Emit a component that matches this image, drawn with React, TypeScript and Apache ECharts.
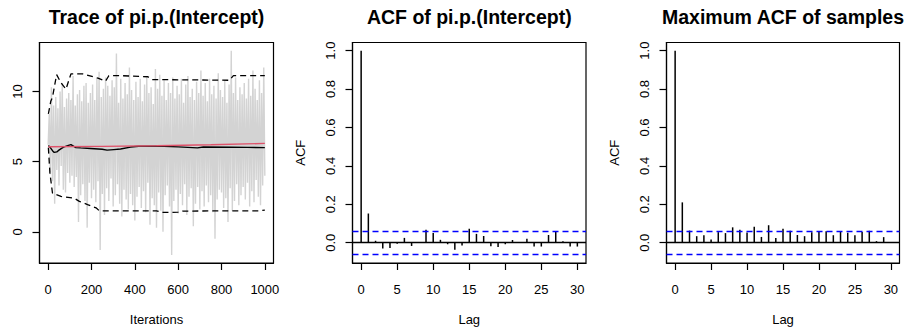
import React, { useEffect, useRef } from 'react';
import * as echarts from 'echarts';

// ---- Trace panel data ----
const traceStep = 5; // iteration spacing between recorded trace values
const traceValues = [
  6.2,
  8.4, 4.1, 10.3, 3.6, 9.0, 2.0, 9.6, 4.4, 8.8, 3.3, 10.0, 4.7, 10.6, 3.0, 8.9, 2.8, 9.5, 4.2, 9.9, 3.5,
  9.4, 4.0, 11.1, 3.2, 9.0, 3.9, 9.8, 0.7, 10.1, 2.6, 9.3, 3.4, 10.4, 2.2, 10.6, 0.3, 9.2, 3.5, 9.9, 2.4,
  10.5, 3.0, 9.4, 2.1, 10.9, 3.6, 11.4, -1.3, 9.6, 2.7, 10.2, 1.2, 11.0, 3.1, 10.4, 2.2, 9.7, 3.8, 10.8, 1.8,
  10.3, 2.6, 12.7, 3.4, 9.2, 2.0, 10.9, 1.1, 9.5, 3.0, 10.6, 2.3, 9.8, 1.6, 11.7, 2.7, 10.1, 1.9, 9.4, 0.8,
  10.7, 2.5, 9.6, 3.2, 10.9, 1.7, 9.3, 2.9, 10.5, 1.4, 11.0, 3.5, 9.9, 0.5, 10.3, 2.4, 9.1, 1.9, 11.6, 0.3,
  10.2, 2.8, 11.2, 1.5, 9.7, 0.0, 10.8, 2.6, 9.4, 3.3, 10.6, 1.8, 9.9, -1.65, 11.0, 2.2, 9.5, 3.0, 10.4, 1.3,
  9.8, 2.7, 10.9, 1.9, 9.2, 3.4, 10.5, 1.2, 11.1, 2.5, 9.6, 3.1, 10.2, 0.4, 9.4, 2.0, 10.7, 3.2, 9.9, 1.6,
  11.5, 2.9, 9.7, 1.8, 10.6, 3.3, 9.3, 2.1, 10.9, 2.6, 9.8, 1.4, 10.4, -0.5, 9.5, 2.3, 11.3, 3.0, 10.1, 2.8,
  9.6, 1.7, 10.8, 2.4, 9.2, 0.7, 10.5, 3.1, 12.9, 1.5, 9.9, 2.2, 11.0, 3.4, 9.4, 1.9, 10.3, 2.6, 9.8, 3.2,
  10.6, 2.3, 9.5, 3.5, 10.9, 1.8, 9.7, 2.9, 11.5, 2.1, 10.2, 3.7, 9.4, 2.5, 10.8, 1.9, 9.9, 3.3, 11.7, 4.0,
];

const runMeanIter = [1, 10, 20, 28, 40, 48, 60, 71, 90, 105, 128, 150, 195, 249, 272, 303, 334, 380, 418, 534, 600, 689, 716, 844, 920, 1000];
const runMeanVal = [6.15, 6.0, 5.78, 5.66, 5.7, 5.8, 5.93, 6.04, 6.14, 6.22, 6.0, 5.98, 5.94, 5.88, 5.82, 5.86, 5.9, 6.04, 6.1, 6.1, 6.05, 5.98, 6.04, 6.03, 6.02, 6.0];

const upperIter = [1, 12, 20, 39, 60, 82, 105, 160, 230, 265, 280, 330, 460, 480, 836, 855, 1000];
const upperVal = [8.4, 9.3, 9.6, 11.2, 10.6, 10.16, 11.25, 11.25, 10.95, 10.74, 11.12, 11.13, 11.05, 10.85, 10.8, 11.13, 11.13];

const lowerIter = [1, 8, 20, 59, 120, 144, 182, 221, 236, 500, 525, 600, 620, 970, 1000];
const lowerVal = [6.0, 4.2, 2.75, 2.52, 2.4, 2.17, 1.94, 1.71, 1.5, 1.5, 1.38, 1.4, 1.48, 1.5, 1.55];

const trendIter = [1, 250, 500, 750, 1000];
const trendVal = [6.06, 6.09, 6.13, 6.2, 6.3];

const traceTicksX = [0, 200, 400, 600, 800, 1000];
const traceTicksY = [0, 5, 10];

// ---- ACF panels data ----
const lags = [0, 1, 2, 3, 4, 5, 6, 7, 8, 9, 10, 11, 12, 13, 14, 15, 16, 17, 18, 19, 20, 21, 22, 23, 24, 25, 26, 27, 28, 29, 30];
const acfValues = [1.0, 0.152, 0.01, -0.03, -0.027, -0.005, 0.025, -0.017, 0.003, 0.068, 0.05, 0.015, -0.008, -0.037, -0.014, 0.073, 0.046, 0.035, -0.018, -0.022, -0.008, 0.014, 0.003, 0.02, -0.02, -0.02, 0.04, 0.056, 0.008, -0.02, -0.02];
const maxAcfValues = [1.0, 0.21, 0.063, 0.034, 0.039, 0.017, 0.055, 0.05, 0.08, 0.067, 0.053, 0.083, 0.03, 0.091, 0.024, 0.072, 0.062, 0.04, 0.034, 0.054, 0.056, 0.059, 0.039, 0.056, 0.052, 0.039, 0.056, 0.062, 0.008, 0.029, 0.002];
const confLimit = 0.062;
const acfTicksX = [0, 5, 10, 15, 20, 25, 30];
const acfTicksY = [0, 0.2, 0.4, 0.6, 0.8, 1.0];

const titles = ['Trace of pi.p.(Intercept)', 'ACF of pi.p.(Intercept)', 'Maximum ACF of samples'];

const FONT = 'Liberation Sans, Arial, Helvetica, sans-serif';

export default function App() {
  const ref = useRef<HTMLDivElement>(null);

  useEffect(() => {
    if (!ref.current) return;
    const chart = echarts.init(ref.current, undefined, { renderer: 'svg' });

    const grids = [
      { left: 39.5, top: 42.5, width: 234, height: 226 },
      { left: 352.5, top: 42.5, width: 233.5, height: 226 },
      { left: 666.5, top: 42.5, width: 233, height: 226 },
    ];

    const labelStyle = { color: '#000', fontSize: 13, fontFamily: FONT };
    const tickStyle = { show: true, inside: false, length: 7, lineStyle: { color: '#000', width: 1.2 } };

    const mkX = (gi: number, min: number, max: number, ticks: number[], name: string) => ({
      type: 'value',
      gridIndex: gi,
      min,
      max,
      name,
      nameLocation: 'middle',
      nameGap: 50,
      nameTextStyle: { ...labelStyle },
      axisLine: { show: true, onZero: false, lineStyle: { color: '#000', width: 1.2 } },
      axisTick: { ...tickStyle, customValues: ticks },
      axisLabel: { ...labelStyle, margin: 20, customValues: ticks, formatter: (v: number) => String(v) },
      splitLine: { show: false },
    });

    const mkY = (gi: number, min: number, max: number, ticks: number[], name: string, digits: number) => ({
      type: 'value',
      gridIndex: gi,
      min,
      max,
      name,
      nameLocation: 'middle',
      nameGap: 46,
      nameRotate: 90,
      nameTextStyle: { ...labelStyle },
      axisLine: { show: true, onZero: false, lineStyle: { color: '#000', width: 1.2 } },
      axisTick: { ...tickStyle, customValues: ticks },
      axisLabel: { ...labelStyle, rotate: 90, margin: 16, customValues: ticks, formatter: (v: number) => v.toFixed(digits) },
      splitLine: { show: false },
    });

    const pair = (xs: number[], ys: number[]) => xs.map((x, i) => [x, ys[i]]);

    const acfRender = (params: any, api: any) => {
      const x = api.value(0);
      const y = api.value(1);
      const p0 = api.coord([x, 0]);
      const p1 = api.coord([x, y]);
      return {
        type: 'line',
        shape: { x1: p0[0], y1: p0[1], x2: p1[0], y2: p1[1] },
        style: { stroke: '#000', lineWidth: 1.5 },
      };
    };

    const acfMarks = {
      silent: true,
      symbol: 'none',
      label: { show: false },
      data: [
        { yAxis: 0, lineStyle: { color: '#000', width: 1.3, type: 'solid' } },
        { yAxis: confLimit, lineStyle: { color: '#0000FF', width: 1.3, type: [6, 4] } },
        { yAxis: -confLimit, lineStyle: { color: '#0000FF', width: 1.3, type: [6, 4] } },
      ],
    };

    const centers = grids.map((g) => g.left + g.width / 2);

    chart.setOption({
      animation: false,
      backgroundColor: '#fff',
      textStyle: { fontFamily: FONT },
      title: titles.map((t, i) => ({
        text: t,
        left: centers[i],
        top: 7,
        padding: 0,
        textAlign: 'center',
        textStyle: { fontSize: 19.5, fontWeight: 'bold', color: '#000', fontFamily: FONT },
      })),
      grid: grids.map((g) => ({ ...g, show: true, borderColor: '#000', borderWidth: 1.2, backgroundColor: 'transparent' })),
      xAxis: [
        mkX(0, -40, 1040, traceTicksX, 'Iterations'),
        mkX(1, -1.2, 31.2, acfTicksX, 'Lag'),
        mkX(2, -1.2, 31.2, acfTicksX, 'Lag'),
      ],
      yAxis: [
        mkY(0, -2.22, 13.49, traceTicksY, '', 0),
        mkY(1, -0.1057, 1.0425, acfTicksY, 'ACF', 1),
        mkY(2, -0.1057, 1.0425, acfTicksY, 'ACF', 1),
      ],
      series: [
        {
          type: 'line',
          xAxisIndex: 0,
          yAxisIndex: 0,
          data: traceValues.map((v, i) => [i * traceStep, v]),
          symbol: 'none',
          lineStyle: { color: '#D3D3D3', width: 1.4 },
          z: 1,
        },
        {
          type: 'line',
          xAxisIndex: 0,
          yAxisIndex: 0,
          data: pair(upperIter, upperVal),
          symbol: 'none',
          lineStyle: { color: '#000', width: 1.3, type: [6, 4] },
          z: 2,
        },
        {
          type: 'line',
          xAxisIndex: 0,
          yAxisIndex: 0,
          data: pair(lowerIter, lowerVal),
          symbol: 'none',
          lineStyle: { color: '#000', width: 1.3, type: [6, 4] },
          z: 2,
        },
        {
          type: 'line',
          xAxisIndex: 0,
          yAxisIndex: 0,
          data: pair(runMeanIter, runMeanVal),
          symbol: 'none',
          lineStyle: { color: '#000', width: 1.4 },
          z: 3,
        },
        {
          type: 'line',
          xAxisIndex: 0,
          yAxisIndex: 0,
          data: pair(trendIter, trendVal),
          symbol: 'none',
          lineStyle: { color: '#DF536B', width: 1.4 },
          z: 4,
        },
        {
          type: 'custom',
          xAxisIndex: 1,
          yAxisIndex: 1,
          data: lags.map((l, i) => [l, acfValues[i]]),
          encode: { x: 0, y: 1 },
          renderItem: acfRender,
          markLine: acfMarks,
        },
        {
          type: 'custom',
          xAxisIndex: 2,
          yAxisIndex: 2,
          data: lags.map((l, i) => [l, maxAcfValues[i]]),
          encode: { x: 0, y: 1 },
          renderItem: acfRender,
          markLine: acfMarks,
        },
      ],
    });

    return () => chart.dispose();
  }, []);

  return (
    <div
      ref={ref}
      style={{ position: 'absolute', left: 0, top: 0, width: 906, height: 331, background: '#fff' }}
    />
  );
}
